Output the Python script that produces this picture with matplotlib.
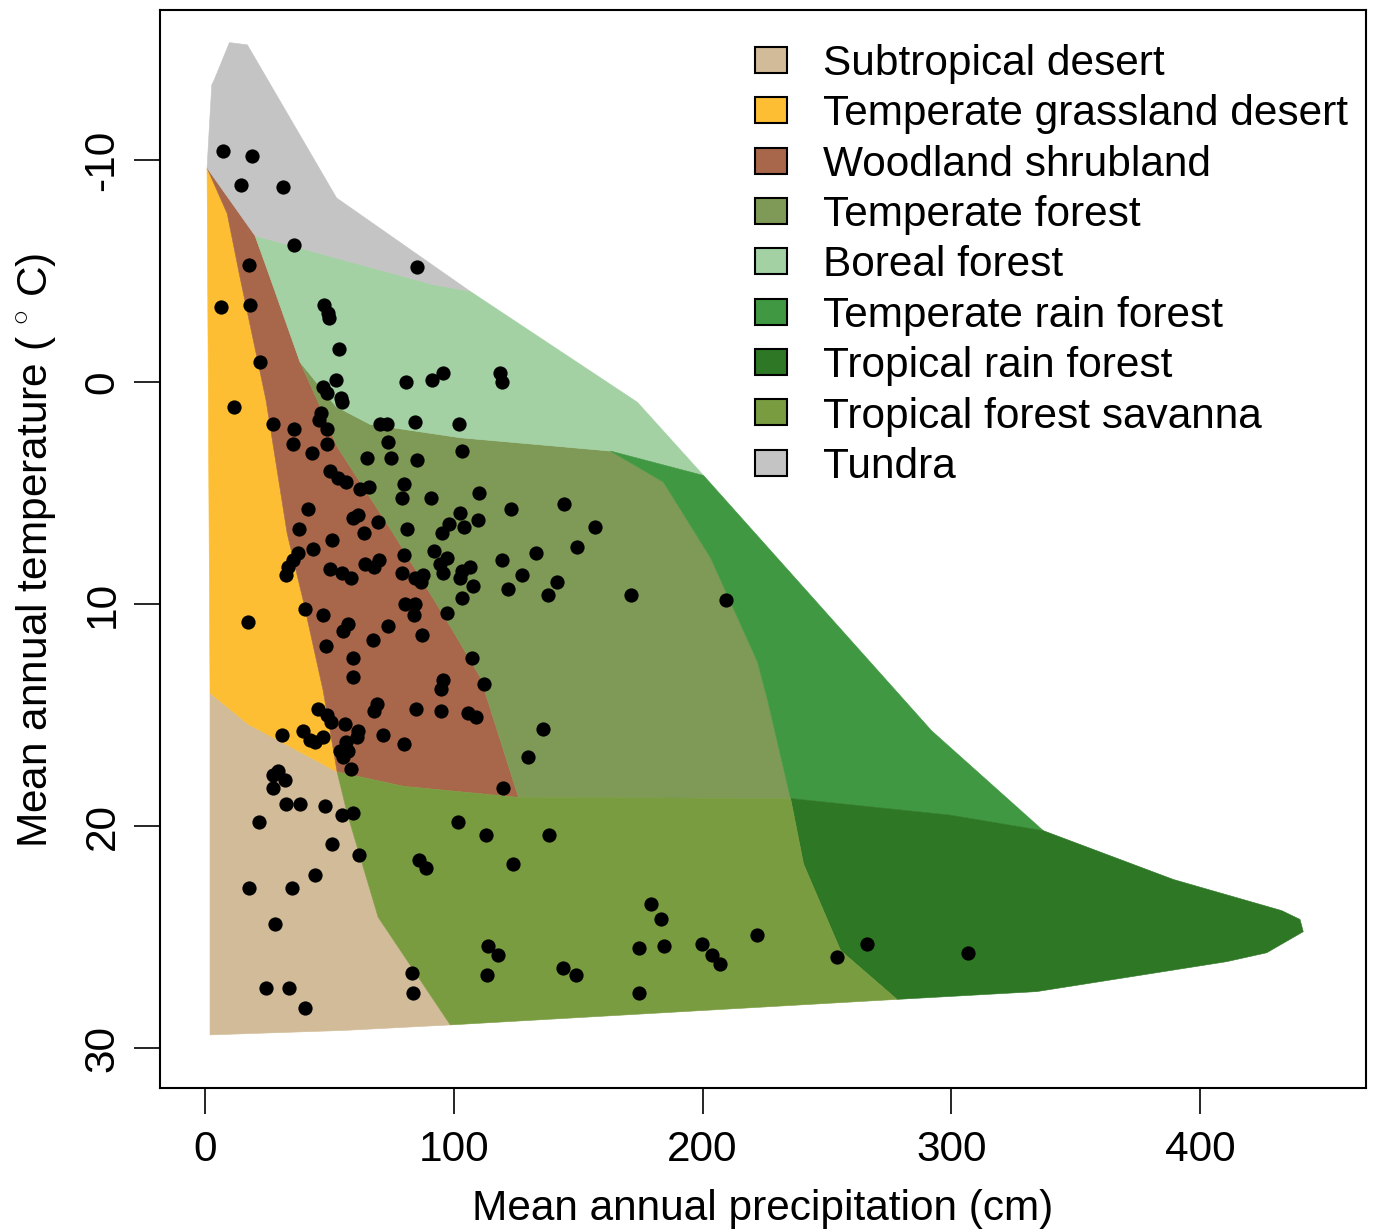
import numpy as np
import matplotlib
matplotlib.use("Agg")
import matplotlib.pyplot as plt
from matplotlib.patches import Polygon, Rectangle

plt.rcParams["font.family"] = ["Liberation Sans", "DejaVu Sans"]
plt.rcParams["mathtext.fontset"] = "custom"
plt.rcParams["mathtext.rm"] = "Liberation Sans"
plt.rcParams["axes.unicode_minus"] = False

# biome outlines: precipitation (cm) and temperature (C)
tundra_p = [0.8, 2.7, 3.6, 9.8, 17.0, 52.9, 106.5, 91.7, 20.1]
tundra_t = [-9.65, -13.4, -13.6, -15.3, -15.2, -8.3, -4.1, -4.4, -6.6]

boreal_p = [20.1, 91.7, 106.5, 173.8, 200.4, 163.0, 142.9, 102.6, 66.4, 52.7, 38.2, 26.2]
boreal_t = [-6.6, -4.4, -4.1, 0.9, 4.2, 3.1, 2.9, 2.5, 1.9, 1.1, -0.9, -4.7]

woodland_p = [0.8, 20.1, 26.2, 38.2, 45.1, 53.1, 75.6, 98.6, 110.7, 126.0, 79.7, 53.1,
              47.5, 39.4, 33.0, 24.5, 14.1, 8.9]
woodland_t = [-9.65, -6.6, -4.7, -0.9, 0.8, 2.9, 6.8, 11.0, 13.3, 18.7, 18.2, 17.55,
              13.9, 9.8, 6.8, 0.8, -4.7, -7.6]

grass_p = [0.8, 8.9, 14.1, 24.5, 33.0, 39.4, 47.5, 53.1, 17.3, 2.0]
grass_t = [-9.65, -7.6, -4.7, 0.8, 6.8, 9.8, 13.9, 17.55, 15.4, 14.0]

subdesert_p = [2.0, 17.3, 53.1, 57.1, 69.6, 98.6, 55.5, 2.0]
subdesert_t = [14.0, 15.4, 17.55, 19.4, 24.1, 28.95, 29.2, 29.4]

savanna_p = [53.1, 79.7, 126.0, 235.4, 240.6, 255.5, 278.2, 98.6, 69.6, 57.1]
savanna_t = [17.55, 18.2, 18.7, 18.75, 21.7, 25.6, 27.8, 28.95, 24.1, 19.4]

trf_p = [235.4, 299.6, 337.0, 389.3, 432.8, 440.2, 441.5, 426.8, 410.7, 334.3, 278.2, 255.5, 240.6]
trf_t = [18.75, 19.5, 20.2, 22.4, 23.8, 24.2, 24.75, 25.7, 26.1, 27.45, 27.8, 25.6, 21.7]

temprain_p = [163.0, 200.4, 292.1, 337.0, 299.6, 235.4, 226.1, 222.1, 203.2, 184.3]
temprain_t = [3.1, 4.2, 15.7, 20.2, 19.5, 18.75, 14.3, 12.6, 7.9, 4.5]

tempforest_p = [38.2, 52.7, 66.4, 102.6, 142.9, 163.0, 184.3, 203.2, 222.1, 226.1, 235.4,
                126.0, 110.7, 98.6, 75.6, 53.1, 45.1]
tempforest_t = [-0.9, 1.1, 1.9, 2.5, 2.9, 3.1, 4.5, 7.9, 12.6, 14.3, 18.75,
                18.7, 13.3, 11.0, 6.8, 2.9, 0.8]

biome_names = ["Subtropical desert", "Temperate grassland desert", "Woodland shrubland",
               "Temperate forest", "Boreal forest", "Temperate rain forest",
               "Tropical rain forest", "Tropical forest savanna", "Tundra"]
biome_colors = ["#D2BB98", "#FDBE33", "#A8674A", "#7F9A56", "#A3D1A4",
                "#419842", "#2D7725", "#7A9C40", "#C4C4C4"]
biome_shapes = [(subdesert_p, subdesert_t), (grass_p, grass_t), (woodland_p, woodland_t),
                (tempforest_p, tempforest_t), (boreal_p, boreal_t), (temprain_p, temprain_t),
                (trf_p, trf_t), (savanna_p, savanna_t), (tundra_p, tundra_t)]

# sites
site_precip = [7.4, 18.8, 14.4, 31.5, 35.9, 85.1, 17.7, 6.4, 18.1, 48.0,
               49.3, 50.0, 54.0, 22.1, 52.7, 47.6, 49.2, 54.6, 55.0, 11.7,
               80.7, 91.4, 95.8, 118.6, 119.5, 84.4, 102.2, 103.4, 85.4, 80.0,
               79.1, 90.7, 110.3, 144.4, 122.9, 102.6, 109.9, 98.2, 104.1, 95.4,
               156.8, 81.1, 149.4, 133.1, 92.1, 97.2, 119.5, 80.0, 94.5, 95.8,
               106.5, 103.2, 102.5, 107.9, 127.3, 141.4, 121.7, 137.8, 171.1, 209.5,
               103.2, 79.1, 84.4, 87.8, 86.7, 80.4, 84.4, 84.0, 97.2, 87.1,
               107.3, 95.8, 94.8, 112.3, 46.6, 46.0, 48.9, 27.2, 35.8, 35.3,
               43.1, 48.9, 70.4, 73.3, 73.7, 65.0, 74.8, 50.3, 53.6, 56.6,
               62.3, 66.1, 41.5, 37.9, 59.6, 61.4, 69.7, 63.9, 51.2, 43.5,
               37.3, 35.3, 33.5, 32.6, 50.3, 55.0, 58.6, 64.3, 68.1, 70.1,
               40.2, 47.3, 17.4, 55.4, 57.6, 73.7, 67.7, 48.5, 59.4, 59.6,
               45.6, 48.9, 50.5, 56.3, 69.0, 68.1, 84.8, 94.9, 105.6, 108.9,
               136.0, 129.7, 31.1, 39.5, 42.2, 44.2, 47.6, 61.6, 61.0, 56.6,
               71.7, 80.1, 54.3, 57.6, 55.4, 58.6, 119.7, 29.5, 27.5, 32.2,
               27.5, 32.4, 38.3, 48.2, 55.0, 59.4, 21.8, 51.1, 61.8, 44.2,
               17.6, 34.9, 28.3, 24.5, 33.7, 40.1, 83.1, 83.7, 101.8, 113.0,
               138.4, 86.2, 88.7, 123.9, 113.9, 117.9, 113.3, 179.4, 183.4, 174.6,
               184.5, 199.8, 203.8, 206.9, 221.8, 254.2, 266.0, 144.0, 149.2, 174.5,
               306.7]
site_temp = [-10.4, -10.2, -8.9, -8.8, -6.2, -5.2, -5.3, -3.4, -3.5, -3.5,
             -3.1, -2.9, -1.5, -0.9, -0.1, 0.2, 0.5, 0.7, 0.9, 1.1,
             0.0, -0.1, -0.4, -0.4, 0.0, 1.8, 1.9, 3.1, 3.5, 4.6,
             5.2, 5.2, 5.0, 5.5, 5.7, 5.9, 6.2, 6.4, 6.5, 6.8,
             6.5, 6.6, 7.4, 7.7, 7.6, 7.9, 8.0, 7.8, 8.2, 8.6,
             8.3, 8.5, 8.8, 9.2, 8.7, 9.0, 9.3, 9.6, 9.6, 9.8,
             9.7, 8.6, 8.8, 8.7, 9.0, 10.0, 10.0, 10.5, 10.4, 11.4,
             12.4, 13.4, 13.8, 13.6, 1.4, 1.7, 2.1, 1.9, 2.1, 2.8,
             3.2, 2.8, 1.9, 1.9, 2.7, 3.4, 3.4, 4.0, 4.3, 4.5,
             4.8, 4.7, 5.7, 6.6, 6.1, 6.0, 6.3, 6.8, 7.1, 7.5,
             7.7, 8.0, 8.3, 8.7, 8.4, 8.6, 8.8, 8.2, 8.3, 8.0,
             10.2, 10.5, 10.8, 11.2, 10.9, 11.0, 11.6, 11.9, 12.4, 13.3,
             14.7, 15.0, 15.3, 15.4, 14.5, 14.8, 14.7, 14.8, 14.9, 15.1,
             15.6, 16.9, 15.9, 15.7, 16.1, 16.2, 16.0, 15.7, 16.0, 16.2,
             15.9, 16.3, 16.6, 16.6, 16.9, 17.4, 18.3, 17.5, 17.7, 17.9,
             18.3, 19.0, 19.0, 19.1, 19.5, 19.4, 19.8, 20.8, 21.3, 22.2,
             22.8, 22.8, 24.4, 27.3, 27.3, 28.2, 26.6, 27.5, 19.8, 20.4,
             20.4, 21.5, 21.9, 21.7, 25.4, 25.8, 26.7, 23.5, 24.2, 25.5,
             25.4, 25.3, 25.8, 26.2, 24.9, 25.9, 25.3, 26.4, 26.7, 27.5,
             25.7]

x_ticks = [0, 100, 200, 300, 400]
y_ticks = [-10, 0, 10, 20, 30]

fs = 30.5

fig = plt.figure(figsize=(13.76, 12.31), dpi=100)
ax = fig.add_axes([0.1163, 0.1162, 0.8764, 0.8757])

for (px, ty), col in zip(biome_shapes, biome_colors):
    poly = Polygon(np.column_stack([px, ty]), closed=True, facecolor=col,
                   edgecolor=col, linewidth=0.4, zorder=1)
    ax.add_patch(poly)

ax.scatter(site_precip, site_temp, s=105, color="black", linewidths=0, zorder=3)

ax.set_xlim(-18.1, 466.7)
ax.set_ylim(31.79, -16.77)
ax.set_xticks(x_ticks)
ax.set_yticks(y_ticks)
ax.tick_params(axis="both", direction="out", length=19, width=1.2, labelsize=fs)
ax.tick_params(axis="x", pad=11)
ax.tick_params(axis="y", pad=8, labelrotation=90)
for lbl in ax.get_yticklabels():
    lbl.set_va("center")
for s in ax.spines.values():
    s.set_linewidth(1.5)

fig.text(0.5545, 0.018, "Mean annual precipitation (cm)", fontsize=fs,
         ha="center", va="center")
fig.text(0.026, 0.553, r"Mean annual temperature ( $^{\circ}$ C)", fontsize=fs,
         ha="center", va="center", rotation=90)

# legend, no frame
for i, (name, col) in enumerate(zip(biome_names, biome_colors)):
    yc = 0.9537 - i * 0.04672
    ax.add_patch(Rectangle((0.4934, yc - 0.0121), 0.0263, 0.0242, transform=ax.transAxes,
                           facecolor=col, edgecolor="black", linewidth=1.5,
                           clip_on=False, zorder=4))
    ax.text(0.5494, yc - 0.0140, name, transform=ax.transAxes, fontsize=fs,
            ha="left", va="baseline", zorder=4)

fig.savefig("out.png", dpi=100)
